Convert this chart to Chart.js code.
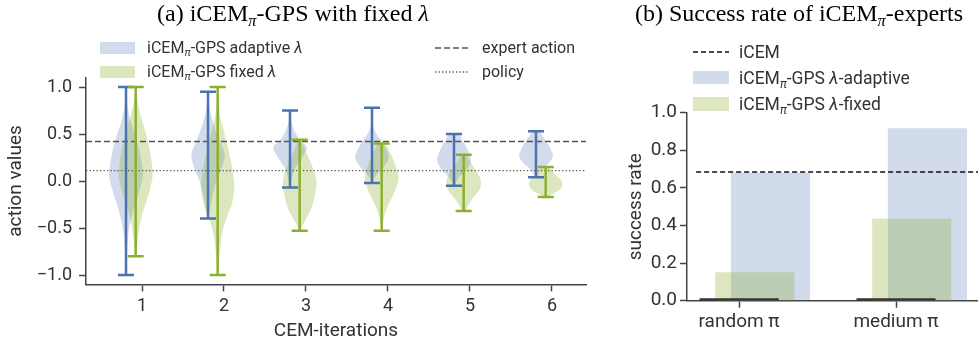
<!DOCTYPE html>
<html>
<head>
<meta charset="utf-8">
<script src="https://cdn.jsdelivr.net/npm/chart.js@4.4.0/dist/chart.umd.min.js"></script>
<style>
body { margin: 0; width: 978px; height: 345px; overflow: hidden; background: #fff; position: relative; font-family: Roboto, sans-serif; color: #333; }
canvas { position: absolute; top: 0; }
#chartA { left: 0; }
#chartB { left: 600px; }
.title { position: absolute; font-family: "Liberation Serif", serif; font-size: 24px; line-height: 24px; color: #000; white-space: nowrap; }
.lg { position: absolute; white-space: nowrap; line-height: 1; color: #333; }
.lga { font-size: 16px; }
.lgb { font-size: 17.5px; }
.patch { position: absolute; }
sub { font-size: 0.68em; vertical-align: -0.3em; line-height: 0; font-style: italic; }
</style>
</head>
<body>
<canvas id="chartA" width="600" height="345"></canvas>
<canvas id="chartB" width="400" height="345"></canvas>

<div class="title" style="left:157px;top:1px">(a) iCEM<sub>π</sub>-GPS with fixed <i>λ</i></div>
<div class="title" style="left:635px;top:1px">(b) Success rate of iCEM<sub>π</sub>-experts</div>

<div class="patch" style="left:100px;top:42px;width:35px;height:12px;background:rgba(76,114,176,0.26)"></div>
<div class="lg lga" style="left:147px;top:40px">iCEM<sub>π</sub>-GPS adaptive <i>λ</i></div>
<div class="patch" style="left:100px;top:66px;width:35px;height:12px;background:rgba(140,176,45,0.3)"></div>
<div class="lg lga" style="left:147px;top:64px">iCEM<sub>π</sub>-GPS fixed <i>λ</i></div>
<svg style="position:absolute;left:435px;top:40px" width="34" height="40">
  <line x1="0" y1="8" x2="34" y2="8" stroke="#555" stroke-width="1.3" stroke-dasharray="6,3"/>
  <line x1="0" y1="32" x2="34" y2="32" stroke="#555" stroke-width="1.3" stroke-dasharray="1.3,2.2"/>
</svg>
<div class="lg lga" style="left:482px;top:40px">expert action</div>
<div class="lg lga" style="left:482px;top:64px">policy</div>

<svg style="position:absolute;left:693px;top:44px" width="36" height="16">
  <line x1="0" y1="8" x2="36" y2="8" stroke="#111" stroke-width="1.5" stroke-dasharray="5,3"/>
</svg>
<div class="lg lgb" style="left:739px;top:44px">iCEM</div>
<div class="patch" style="left:693px;top:71px;width:36px;height:13px;background:rgba(76,114,176,0.26)"></div>
<div class="lg lgb" style="left:739px;top:70px">iCEM<sub>π</sub>-GPS <i>λ</i>-adaptive</div>
<div class="patch" style="left:693px;top:97px;width:36px;height:14px;background:rgba(140,176,45,0.3)"></div>
<div class="lg lgb" style="left:739px;top:96px">iCEM<sub>π</sub>-GPS <i>λ</i>-fixed</div>

<script>
// ---- (a) action values per CEM iteration ----
const ITERATIONS = [1, 2, 3, 4, 5, 6];
const Y_TICKS_A = [-1.0, -0.5, 0.0, 0.5, 1.0];
const EXPERT_ACTION = 0.42;
const POLICY_ACTION = 0.11;

const ADAPTIVE_MIN = [-1.0, -0.40, -0.07, -0.02, -0.05, 0.04];
const ADAPTIVE_MAX = [1.0, 0.95, 0.75, 0.78, 0.50, 0.53];
const FIXED_MIN = [-0.80, -1.0, -0.53, -0.53, -0.32, -0.17];
const FIXED_MAX = [1.0, 1.0, 0.44, 0.40, 0.28, 0.15];

// violin outlines: [action value, relative density], top to bottom
const ADAPTIVE_DENSITY = [
  [[1.0, 0], [0.93, 0.02], [0.79, 0.1], [0.65, 0.25], [0.54, 0.45], [0.36, 0.75], [0.19, 0.94], [0.05, 1.0], [-0.13, 0.75], [-0.27, 0.5], [-0.41, 0.3], [-0.55, 0.15], [-0.7, 0.08], [-0.85, 0.04], [-1.0, 0]],
  [[0.95, 0], [0.85, 0.05], [0.72, 0.15], [0.54, 0.45], [0.36, 0.85], [0.28, 1.0], [0.16, 0.85], [0.02, 0.55], [-0.13, 0.3], [-0.27, 0.15], [-0.40, 0.03]],
  [[0.75, 0.02], [0.65, 0.06], [0.54, 0.25], [0.43, 0.6], [0.36, 1.0], [0.29, 0.85], [0.19, 0.5], [0.12, 0.25], [0.02, 0.1], [-0.07, 0.03]],
  [[0.78, 0.02], [0.65, 0.04], [0.54, 0.15], [0.40, 0.65], [0.26, 1.0], [0.16, 0.75], [0.09, 0.4], [0.02, 0.1], [-0.02, 0.03]],
  [[0.50, 0.35], [0.43, 0.5], [0.36, 0.75], [0.22, 1.0], [0.12, 0.75], [0.05, 0.35], [-0.02, 0.1], [-0.05, 0.05]],
  [[0.53, 0.2], [0.41, 0.65], [0.31, 0.95], [0.26, 1.0], [0.19, 0.75], [0.12, 0.3], [0.05, 0.1], [0.04, 0.08]]
];
const FIXED_DENSITY = [
  [[1.0, 0], [0.86, 0.1], [0.72, 0.26], [0.54, 0.55], [0.36, 0.8], [0.19, 0.96], [0.05, 1.0], [-0.09, 0.85], [-0.24, 0.6], [-0.38, 0.35], [-0.52, 0.2], [-0.7, 0.08], [-0.80, 0.03]],
  [[1.0, 0], [0.85, 0.05], [0.72, 0.12], [0.54, 0.35], [0.36, 0.6], [0.19, 0.82], [0.02, 0.95], [-0.05, 1.0], [-0.24, 0.85], [-0.38, 0.55], [-0.52, 0.3], [-0.7, 0.15], [-0.84, 0.08], [-1.0, 0]],
  [[0.44, 0.05], [0.36, 0.25], [0.22, 0.6], [0.08, 0.9], [-0.02, 1.0], [-0.16, 0.9], [-0.31, 0.65], [-0.41, 0.35], [-0.50, 0.1], [-0.53, 0.05]],
  [[0.40, 0.2], [0.36, 0.35], [0.22, 0.7], [0.05, 1.0], [-0.05, 0.9], [-0.16, 0.65], [-0.27, 0.35], [-0.38, 0.15], [-0.48, 0.05], [-0.53, 0.03]],
  [[0.28, 0.15], [0.16, 0.55], [0.02, 1.0], [-0.09, 0.95], [-0.18, 0.55], [-0.25, 0.3], [-0.30, 0.15], [-0.32, 0.1]],
  [[0.15, 0.2], [0.09, 0.45], [0.02, 0.85], [-0.03, 1.0], [-0.09, 0.85], [-0.15, 0.3], [-0.17, 0.15]]
];

// ---- (b) success rate ----
const POLICIES = ['random π', 'medium π'];
const Y_TICKS_B = [0.0, 0.2, 0.4, 0.6, 0.8, 1.0];
const ICEM_RATE = 0.685;
const ICEM_BARS = [0, 0];
const ADAPTIVE_RATE = [0.68, 0.915];
const FIXED_RATE = [0.15, 0.435];

// layout
const A_XMIN = 0.317, A_XMAX = 6.415;
const ADAPT_SHIFT = -0.195, FIXED_SHIFT = -0.077;
const VIOLIN_HALF = 0.205, CAP_HALF = 0.098;
const B_XMIN = -0.332, B_XMAX = 1.535;
const B_AREA_W = 400 - 20 - 87;
const BAR_WIDTH = 0.5, ADAPT_OFF = 0.2, FIXED_OFF = 0.1, ICEM_LINE_START = -0.274;
const BAR_PX = BAR_WIDTH * B_AREA_W / (B_XMAX - B_XMIN);

const BLUE = 'rgb(76,114,176)', GREEN = 'rgb(140,176,45)';
const BLUE_FILL = 'rgba(76,114,176,0.26)', GREEN_FILL = 'rgba(140,176,45,0.3)';
const AXIS = '#444', TEXT = '#333';

function violin(pos, dens) {
  const right = dens.map(([v, d]) => ({x: pos + d * VIOLIN_HALF, y: v}));
  const left = dens.slice().reverse().map(([v, d]) => ({x: pos - d * VIOLIN_HALF, y: v}));
  return right.concat(left);
}

function errorBars(shift, mins, maxs) {
  const pts = [];
  ITERATIONS.forEach((it, i) => {
    const p = it + shift;
    pts.push({x: p - CAP_HALF, y: maxs[i]}, {x: p + CAP_HALF, y: maxs[i]}, {x: p, y: null});
    pts.push({x: p, y: maxs[i]}, {x: p, y: mins[i]}, {x: p, y: null});
    pts.push({x: p - CAP_HALF, y: mins[i]}, {x: p + CAP_HALF, y: mins[i]}, {x: p, y: null});
  });
  return pts;
}

const fmt = v => v.toFixed(1).replace('-', '\u2212');

const datasetsA = [];
ITERATIONS.forEach((it, i) => {
  datasetsA.push({data: violin(it + ADAPT_SHIFT, ADAPTIVE_DENSITY[i]), fill: 'shape', backgroundColor: BLUE_FILL,
    borderColor: 'rgba(0,0,0,0)', borderWidth: 1, tension: 0.35, pointRadius: 0, order: 10});
  datasetsA.push({data: violin(it + FIXED_SHIFT, FIXED_DENSITY[i]), fill: 'shape', backgroundColor: GREEN_FILL,
    borderColor: 'rgba(0,0,0,0)', borderWidth: 1, tension: 0.35, pointRadius: 0, order: 9});
});
datasetsA.push({data: [{x: A_XMIN, y: EXPERT_ACTION}, {x: A_XMAX, y: EXPERT_ACTION}], borderColor: '#555',
  borderWidth: 1.3, borderDash: [6, 3], pointRadius: 0, order: 5});
datasetsA.push({data: [{x: A_XMIN, y: POLICY_ACTION}, {x: A_XMAX, y: POLICY_ACTION}], borderColor: '#555',
  borderWidth: 1.3, borderDash: [1.3, 2.2], pointRadius: 0, order: 5});
datasetsA.push({data: errorBars(ADAPT_SHIFT, ADAPTIVE_MIN, ADAPTIVE_MAX), borderColor: BLUE, borderWidth: 2.5,
  borderCapStyle: 'butt', pointRadius: 0, spanGaps: false, order: 2});
datasetsA.push({data: errorBars(FIXED_SHIFT, FIXED_MIN, FIXED_MAX), borderColor: GREEN, borderWidth: 2.5,
  borderCapStyle: 'butt', pointRadius: 0, spanGaps: false, order: 1});

new Chart(document.getElementById('chartA'), {
  type: 'line',
  data: {datasets: datasetsA},
  options: {
    responsive: false,
    animation: false,
    layout: {padding: {top: 77.6, right: 14, left: 0, bottom: 0}},
    plugins: {legend: {display: false}, tooltip: {enabled: false}},
    scales: {
      x: {
        type: 'linear', min: A_XMIN, max: A_XMAX,
        afterBuildTicks: s => { s.ticks = ITERATIONS.map(v => ({value: v})); },
        afterFit: s => { s.height = 60.6; },
        grid: {drawOnChartArea: false, tickLength: 7, tickColor: AXIS, tickWidth: 1.5},
        border: {color: AXIS, width: 1.5},
        ticks: {font: {family: 'Roboto', size: 18}, color: TEXT, padding: 4, maxRotation: 0, autoSkip: false,
          callback: v => String(v)},
        title: {display: true, text: 'CEM-iterations', font: {family: 'Roboto', size: 19}, color: TEXT,
          padding: {top: 0, bottom: 2.6}}
      },
      y: {
        min: -1.1, max: 1.1,
        afterBuildTicks: s => { s.ticks = Y_TICKS_A.map(v => ({value: v})); },
        afterFit: s => { s.width = 86; },
        grid: {drawOnChartArea: false, tickLength: 7, tickColor: AXIS, tickWidth: 1.5},
        border: {color: AXIS, width: 1.5},
        ticks: {font: {family: 'Roboto', size: 18}, color: TEXT, padding: 7, callback: v => fmt(v)},
        title: {display: true, text: 'action values', font: {family: 'Roboto', size: 19}, color: TEXT,
          padding: {top: 4.6, bottom: 0}}
      }
    }
  }
});

new Chart(document.getElementById('chartB'), {
  type: 'bar',
  data: {
    datasets: [
      {type: 'line', data: [{x: ICEM_LINE_START, y: ICEM_RATE}, {x: B_XMAX, y: ICEM_RATE}], borderColor: '#111',
        borderWidth: 1.5, borderDash: [5, 3], pointRadius: 0, order: 0},
      {data: POLICIES.map((p, i) => ({x: i, y: ICEM_BARS[i]})), backgroundColor: '#333', minBarLength: 2,
        grouped: false, barThickness: BAR_PX, order: 1},
      {data: POLICIES.map((p, i) => ({x: i + FIXED_OFF, y: FIXED_RATE[i]})), backgroundColor: GREEN_FILL,
        grouped: false, barThickness: BAR_PX, order: 2},
      {data: POLICIES.map((p, i) => ({x: i + ADAPT_OFF, y: ADAPTIVE_RATE[i]})), backgroundColor: BLUE_FILL,
        grouped: false, barThickness: BAR_PX, order: 3}
    ]
  },
  options: {
    responsive: false,
    animation: false,
    layout: {padding: {top: 112.7, right: 20, left: 0, bottom: 0}},
    plugins: {legend: {display: false}, tooltip: {enabled: false}},
    scales: {
      x: {
        type: 'linear', min: B_XMIN, max: B_XMAX, offset: false,
        afterBuildTicks: s => { s.ticks = POLICIES.map((p, i) => ({value: i})); },
        afterFit: s => { s.height = 44.3; },
        grid: {offset: false, drawOnChartArea: false, tickLength: 7, tickColor: AXIS, tickWidth: 1.5},
        border: {color: AXIS, width: 1.5},
        ticks: {font: {family: 'Roboto', size: 19}, color: TEXT, padding: 3, maxRotation: 0, autoSkip: false,
          callback: (v, i) => POLICIES[i]}
      },
      y: {
        min: 0, max: 1,
        afterBuildTicks: s => { s.ticks = Y_TICKS_B.map(v => ({value: v})); },
        afterFit: s => { s.width = 87; },
        grid: {drawOnChartArea: false, tickLength: 7, tickColor: AXIS, tickWidth: 1.5},
        border: {color: AXIS, width: 1.5},
        ticks: {font: {family: 'Roboto', size: 19}, color: TEXT, padding: 3, callback: v => fmt(v)},
        title: {display: true, text: 'success rate', font: {family: 'Roboto', size: 19}, color: TEXT,
          padding: {top: 24.6, bottom: 0}}
      }
    }
  }
});
</script>
</body>
</html>
